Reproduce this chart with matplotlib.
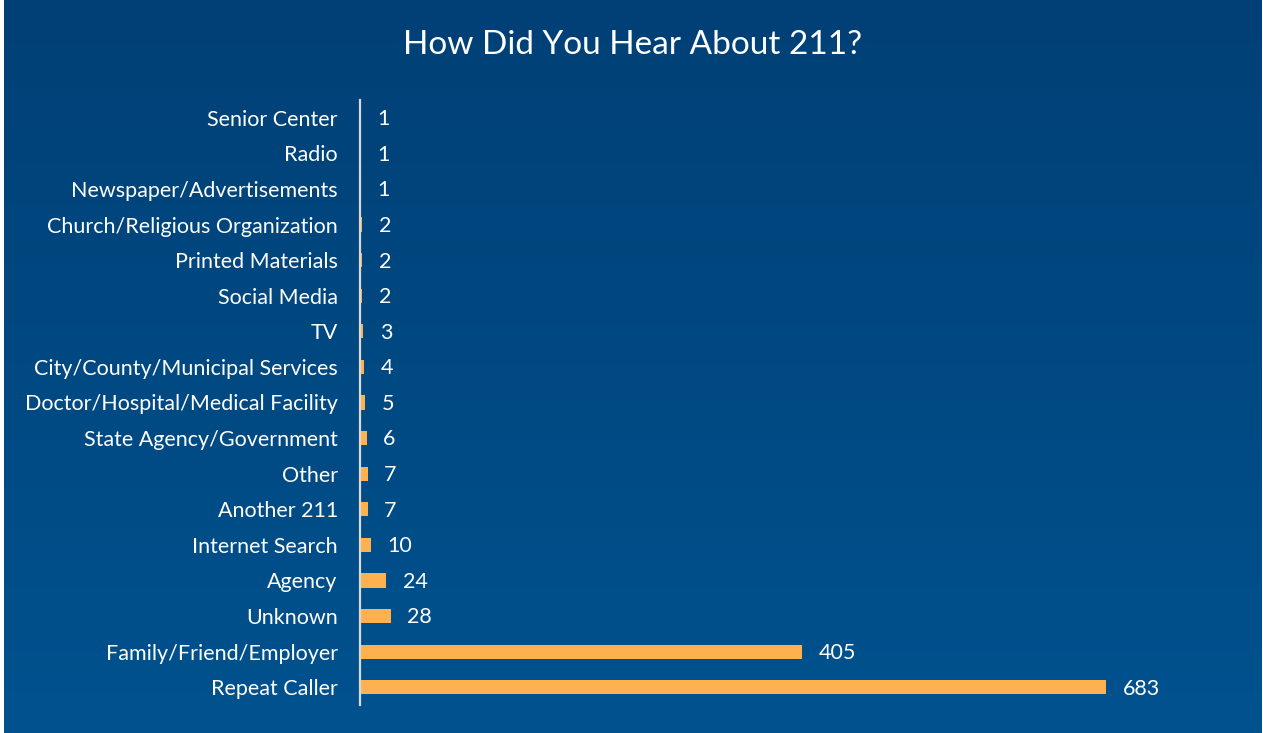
import matplotlib.pyplot as plt
import numpy as np

# Responses, bottom to top as drawn
sources = ['Repeat Caller', 'Family/Friend/Employer', 'Unknown', 'Agency',
           'Internet Search', 'Another 211', 'Other', 'State Agency/Government',
           'Doctor/Hospital/Medical Facility', 'City/County/Municipal Services',
           'TV', 'Social Media', 'Printed Materials', 'Church/Religious Organization',
           'Newspaper/Advertisements', 'Radio', 'Senior Center']
counts = [683, 405, 28, 24, 10, 7, 7, 6, 5, 4, 3, 2, 2, 2, 1, 1, 1]

W, H, DPI = 1263, 733, 100
plt.rcParams['font.family'] = ['Lato', 'DejaVu Sans']

fig = plt.figure(figsize=(W / DPI, H / DPI), dpi=DPI)
fig.patch.set_facecolor('white')

# blue slide background with a soft vertical gradient
bg = fig.add_axes([4 / W, 0, (W - 5) / W, 1])
top = np.array([0, 64, 118]) / 255
bottom = np.array([0, 82, 143]) / 255
t = np.linspace(0, 1, 256)[:, None]
grad = top[None, :] * (1 - t) + bottom[None, :] * t
bg.imshow(grad[:, None, :], aspect='auto', extent=[0, 1, 0, 1])
bg.axis('off')

ax = fig.add_axes([360 / W, 28 / H, 880 / W, 605 / H])
ax.patch.set_alpha(0)
y = np.arange(len(sources))
ax.barh(y, counts, height=0.4, color='#FDB14F', zorder=2)
ax.set_ylim(-0.5, len(sources) - 0.5)
ax.set_xlim(0, 880 / 1.0923)

ax.set_yticks(y)
ax.set_yticklabels(sources, color='white', fontsize=15.5)
ax.tick_params(axis='y', length=0, pad=16)
ax.set_xticks([])
for side in ['top', 'right', 'bottom']:
    ax.spines[side].set_visible(False)
ax.spines['left'].set_color('#D9D9D9')
ax.spines['left'].set_linewidth(1.6)

for yi, c in zip(y, counts):
    ax.annotate(str(c), (c, yi), xytext=(12, -1), textcoords='offset points',
                va='center', ha='left', color='white', fontsize=15.5)

fig.text(633 / W, 1 - 45 / H, 'How Did You Hear About 211?', color='white',
         fontsize=24, ha='center', va='center')

fig.savefig('out.png', dpi=DPI)
